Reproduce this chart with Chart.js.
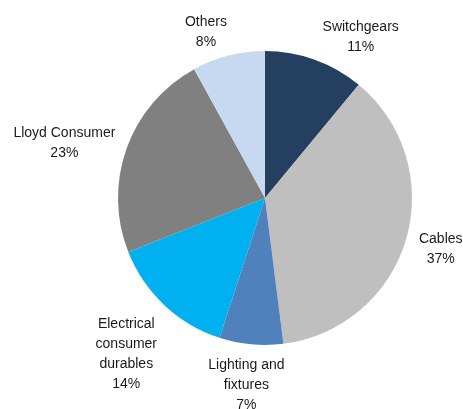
<!DOCTYPE html>
<html>
<head>
<meta charset="utf-8">
<script src="https://cdn.jsdelivr.net/npm/chart.js@4.4.0/dist/chart.umd.min.js"></script>
<style>
html,body{margin:0;padding:0;background:#fff;}
#wrap{width:463px;height:409px;position:relative;}
</style>
</head>
<body>
<div id="wrap"><canvas id="c" width="463" height="409"></canvas></div>
<script>
const categories = ["Switchgears", "Cables", "Lighting and fixtures", "Electrical consumer durables", "Lloyd Consumer", "Others"];
const shares = [11, 37, 7, 14, 23, 8];
const labelLines = [["Switchgears"], ["Cables"], ["Lighting and", "fixtures"], ["Electrical", "consumer", "durables"], ["Lloyd Consumer"], ["Others"]];
const colors = ["#243F60", "#BFBFBF", "#4F81BD", "#00B0F0", "#808080", "#C6D9F1"];

// label placement style: distance beyond radius and small nudges
const labelStyle = [
  {d: 38, dx: 33, dy: 13},
  {d: 36, dx: 0, dy: 0},
  {d: 40, dx: -1, dy: 1},
  {d: 60, dx: 3, dy: 5},
  {d: 62, dx: -4, dy: 16},
  {d: 34, dx: -14, dy: 9}
];

const labelPlugin = {
  id: 'outerLabels',
  afterDatasetsDraw(chart) {
    const ctx = chart.ctx;
    const meta = chart.getDatasetMeta(0);
    ctx.save();
    ctx.font = '14px "Liberation Sans", Arial, sans-serif';
    ctx.fillStyle = '#1a1a1a';
    ctx.textAlign = 'center';
    ctx.textBaseline = 'middle';
    const lh = 20;
    meta.data.forEach((arc, i) => {
      const p = arc.getProps(['x','y','startAngle','endAngle','outerRadius'], true);
      const mid = (p.startAngle + p.endAngle) / 2;
      const st = labelStyle[i];
      const r = p.outerRadius + st.d;
      const cx = p.x + Math.cos(mid) * r + st.dx;
      const cy = p.y + Math.sin(mid) * r + st.dy;
      const lines = labelLines[i].concat([shares[i] + '%']);
      const top = cy - (lines.length - 1) * lh / 2;
      lines.forEach((t, k) => ctx.fillText(t, cx, top + k * lh));
    });
    ctx.restore();
  }
};

new Chart(document.getElementById('c'), {
  type: 'pie',
  data: {
    labels: categories,
    datasets: [{
      data: shares,
      backgroundColor: colors,
      borderWidth: 0
    }]
  },
  options: {
    responsive: false,
    animation: false,
    layout: {padding: {left: 118, right: 51, top: 51, bottom: 64}},
    plugins: {legend: {display: false}, tooltip: {enabled: false}}
  },
  plugins: [labelPlugin]
});
</script>
</body>
</html>
